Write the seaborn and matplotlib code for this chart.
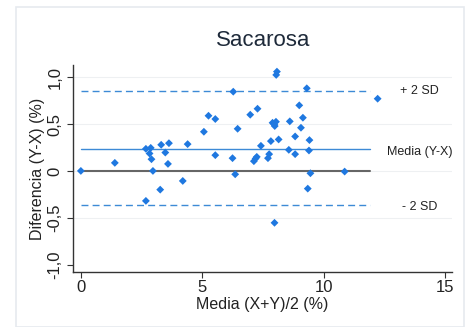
import numpy as np
import pandas as pd
import matplotlib
matplotlib.use("Agg")
import matplotlib.pyplot as plt
from matplotlib.patches import Rectangle
from matplotlib.ticker import FuncFormatter
import seaborn as sns

# Bland-Altman data
media = [0.0, 1.40, 2.68, 2.88, 2.83, 2.91, 2.97, 2.68, 3.31, 3.48, 3.63, 3.59,
         3.27, 4.20, 4.40, 5.07, 5.26, 5.54, 5.54, 6.25, 6.28, 6.36, 6.46, 6.98,
         7.28, 7.42, 7.13, 7.20, 7.25, 7.71, 7.76, 7.83, 7.90, 7.97, 7.99, 8.04,
         8.08, 8.05, 8.15, 7.98, 8.57, 8.61, 8.83, 8.83, 9.00, 9.07, 9.15, 9.31,
         9.42, 9.40, 9.46, 9.35, 10.87, 12.23]
diferencia = [0.0, 0.086, 0.236, 0.246, 0.186, 0.125, 0.0, -0.32, 0.279, 0.196,
              0.296, 0.075, -0.20, -0.107, 0.286, 0.418, 0.589, 0.554, 0.168,
              0.136, 0.846, -0.036, 0.45, 0.60, 0.664, 0.268, 0.104, 0.132, 0.15,
              0.136, 0.179, 0.318, 0.514, 0.496, 0.479, 0.525, 1.06, 1.025, 0.336,
              -0.554, 0.225, 0.529, 0.368, 0.179, 0.70, 0.461, 0.568, 0.882,
              0.329, 0.218, -0.025, -0.189, -0.007, 0.771]
mean_diff = 0.235
upper_sd = 0.854
lower_sd = -0.36
line_end = 11.9

df = pd.DataFrame({"media": media, "diferencia": diferencia})

sns.set_style("white")
plt.rcParams["font.family"] = ["Liberation Sans", "DejaVu Sans"]

fig = plt.figure(figsize=(4.70, 3.27), dpi=100)
fig.patches.append(Rectangle((16 / 470, 0), 448 / 470, 320 / 327, transform=fig.transFigure,
                             fill=False, edgecolor="#e6eaef", linewidth=1.2))
ax = fig.add_axes([0.155, 0.168, 0.807, 0.633])

# faint horizontal grid
for yv in [-0.5, 0, 0.5, 1.0]:
    ax.axhline(yv, color="#eef0f2", linewidth=0.8, zorder=0)

# limits of agreement, mean difference and zero line
ax.plot([0, line_end], [upper_sd, upper_sd], color="#3d8ad6", lw=1, ls=(0, (5, 3)))
ax.plot([0, line_end], [lower_sd, lower_sd], color="#3d8ad6", lw=1, ls=(0, (5, 3)))
ax.plot([0, line_end], [mean_diff, mean_diff], color="#3d8ad6", lw=1)
ax.plot([0, line_end], [0, 0], color="#666666", lw=1.5)

sns.scatterplot(data=df, x="media", y="diferencia", ax=ax, marker="D", s=16,
                color="#1f78e0", edgecolor="none", zorder=3)

ax.text(13.95, upper_sd, "+ 2 SD", fontsize=9, ha="center", va="center", color="#222222")
ax.text(13.95, mean_diff - 0.03, "Media (Y-X)", fontsize=9, ha="center", va="center", color="#222222")
ax.text(13.95, lower_sd - 0.03, "- 2 SD", fontsize=9, ha="center", va="center", color="#222222")

ax.set_xlim(-0.33, 15.3)
ax.set_ylim(-1.08, 1.13)
ax.set_xticks([0, 5, 10, 15])
ax.set_yticks([-1.0, -0.5, 0, 0.5, 1.0])
ax.yaxis.set_major_formatter(FuncFormatter(lambda v, p: "0" if v == 0 else f"{v:.1f}".replace(".", ",")))
for lbl in ax.get_yticklabels():
    lbl.set_rotation(90)
    lbl.set_va("center")
ax.tick_params(axis="both", direction="out", length=4, width=0.8, color="#333333",
               labelsize=12, colors="#222222", left=True, bottom=True)
ax.tick_params(axis="x", labelsize=12, pad=2)

for side in ["top", "right"]:
    ax.spines[side].set_visible(False)
for side in ["left", "bottom"]:
    ax.spines[side].set_color("#333333")
    ax.spines[side].set_linewidth(1)

ax.set_xlabel("Media (X+Y)/2 (%)", fontsize=11.5, color="#222222", labelpad=1)
ax.set_ylabel("Diferencia (Y-X) (%)", fontsize=11.5, color="#222222", labelpad=2)
fig.text(263 / 470, 1 - 40 / 327, "Sacarosa", fontsize=16, ha="center", va="center", color="#1e2a3a")

fig.savefig("out.png", dpi=100, facecolor="white")
